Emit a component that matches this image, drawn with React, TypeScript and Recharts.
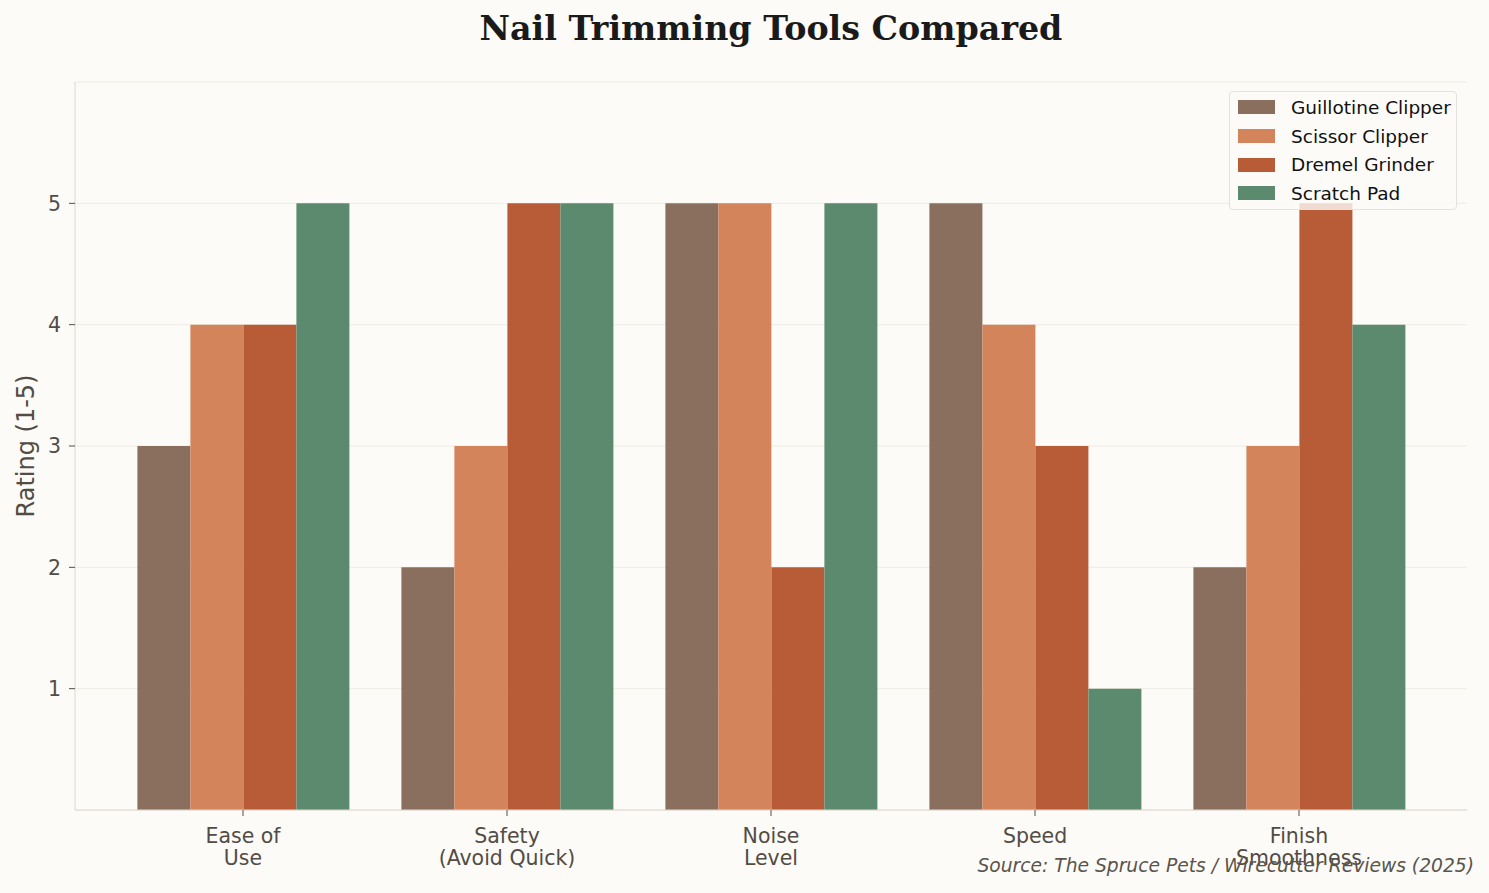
import React from 'react';
import { BarChart, Bar, XAxis, YAxis, CartesianGrid } from 'recharts';

const categories = ['Ease of\nUse', 'Safety\n(Avoid Quick)', 'Noise\nLevel', 'Speed', 'Finish\nSmoothness'];
const guillotine = [3, 2, 5, 5, 2];
const scissor = [4, 3, 5, 4, 3];
const dremel = [4, 5, 2, 3, 5];
const scratch = [5, 5, 5, 1, 4];
const yTicks = [1, 2, 3, 4, 5];

const seriesNames = ['Guillotine Clipper', 'Scissor Clipper', 'Dremel Grinder', 'Scratch Pad'];
const seriesKeys = ['guillotine', 'scissor', 'dremel', 'scratch'];
const seriesColors = ['#8B6F5E', '#D4845A', '#B85C38', '#5B8A6E'];

const data = categories.map((c, i) => ({
  category: c,
  guillotine: guillotine[i],
  scissor: scissor[i],
  dremel: dremel[i],
  scratch: scratch[i],
}));

const FONT = '"DejaVu Sans", sans-serif';
const TEXT = '#524c45';

const XTick = (props: any) => {
  const { x, y, payload } = props;
  const lines = String(payload.value).split('\n');
  return (
    <g transform={`translate(${x},${y})`}>
      <text textAnchor="middle" fill={TEXT} fontSize={20.5} fontFamily={FONT}>
        {lines.map((l, i) => (
          <tspan key={i} x={0} y={25 + i * 22}>{l}</tspan>
        ))}
      </text>
    </g>
  );
};

export default function App() {
  return (
    <div style={{ position: 'absolute', left: 0, top: 0, width: 1489, height: 893, background: '#FCFBF7', fontFamily: FONT }}>
      <div style={{ position: 'absolute', left: 75, top: 7, width: 1392, textAlign: 'center', fontFamily: '"DejaVu Serif", serif', fontWeight: 'bold', fontSize: 33.3, color: '#1a1a1a', lineHeight: '44px' }}>
        Nail Trimming Tools Compared
      </div>
      <BarChart width={1489} height={893} data={data} margin={{ top: 82, right: 22, bottom: 53, left: 0 }} barCategoryGap="10%" barGap={0}>
        <CartesianGrid vertical={false} stroke="#efebe4" strokeWidth={1} />
        <XAxis dataKey="category" height={30} tick={<XTick />} tickLine={{ stroke: TEXT }} tickSize={6} axisLine={{ stroke: '#ddd8d0' }} padding={{ left: 36, right: 36 }} interval={0} />
        <YAxis width={75} domain={[0, 6]} ticks={yTicks} tick={{ fill: TEXT, fontSize: 20.5, fontFamily: FONT }} tickLine={{ stroke: TEXT }} tickSize={6} tickMargin={8} axisLine={{ stroke: '#ddd8d0' }}
          label={{ value: 'Rating (1-5)', angle: -90, position: 'insideLeft', offset: 25, style: { fill: TEXT, fontSize: 24, fontFamily: FONT, textAnchor: 'middle' } }} />
        {seriesKeys.map((k, i) => (
          <Bar key={k} dataKey={k} name={seriesNames[i]} fill={seriesColors[i]} isAnimationActive={false} />
        ))}
      </BarChart>
      <div style={{ position: 'absolute', left: 1229, top: 91, width: 228, height: 119, border: '1.5px solid #e6e1d9', borderRadius: 4, background: 'rgba(252,251,247,0.8)', boxSizing: 'border-box', padding: '1px 0 0 8px' }}>
        {seriesNames.map((n, i) => (
          <div key={n} style={{ display: 'flex', alignItems: 'center', height: 28.7 }}>
            <div style={{ width: 37, height: 14, background: seriesColors[i], marginRight: 16 }} />
            <span style={{ fontSize: 18.5, color: '#111', fontFamily: FONT, whiteSpace: 'nowrap' }}>{n}</span>
          </div>
        ))}
      </div>
      <div style={{ position: 'absolute', right: 15, top: 855, fontSize: 18.7, fontStyle: 'italic', color: '#5a544c', fontFamily: FONT, whiteSpace: 'nowrap' }}>
        Source: The Spruce Pets / Wirecutter Reviews (2025)
      </div>
    </div>
  );
}
